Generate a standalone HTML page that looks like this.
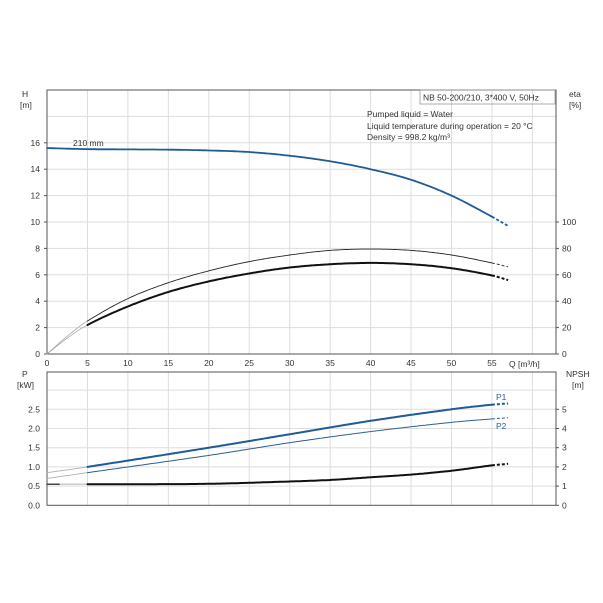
<!DOCTYPE html>
<html><head><meta charset="utf-8"><style>
html,body{margin:0;padding:0;background:#fff}
svg{display:block;font-family:"Liberation Sans",sans-serif}
</style></head><body>
<svg id="s" width="603" height="603" viewBox="0 0 603 603" xmlns="http://www.w3.org/2000/svg">
<rect width="603" height="603" fill="#fff"/>
<g id="g"></g>
<g font-size="8.5" fill="#333">
<text x="22" y="97">H</text><text x="20" y="108">[m]</text>
<text x="569" y="97">eta</text><text x="569" y="108">[%]</text>
<text x="22" y="377">P</text><text x="17" y="388">[kW]</text>
<text x="566" y="377">NPSH</text><text x="572" y="388">[m]</text>
<text x="509" y="367">Q [m³/h]</text>
<text x="73" y="146">210 mm</text>
<text x="367" y="117">Pumped liquid = Water</text>
<text x="367" y="129">Liquid temperature during operation = 20 °C</text>
<text x="367" y="140">Density = 998.2 kg/m³</text>
<text x="423" y="100.5">NB 50-200/210, 3*400 V, 50Hz</text>
<text x="496" y="400" fill="#2a5f95">P1</text>
<text x="496" y="429" fill="#2a5f95">P2</text>
</g>
<rect x="420" y="90" width="135" height="14" fill="none" stroke="#999" stroke-width="0.8"/>
</svg>
<script>
var NS="http://www.w3.org/2000/svg",g=document.getElementById('g');
function el(t,a){var e=document.createElementNS(NS,t);for(var k in a)e.setAttribute(k,a[k]);g.appendChild(e);return e;}
function tx(x,y,s,anchor){var e=el('text',{x:x,y:y,'font-size':8.5,fill:'#333','text-anchor':anchor||'middle'});e.textContent=s;}
var X0=47,XS=40.45/5;function X(q){return X0+q*XS;}
var T0=354,TS=26.4/2;function Y(h){return T0-h*TS;}
var B0=505.3,BS=19.2/0.5;function YB(p){return B0-p*BS;}
for(var q=5;q<=60;q+=5){el('line',{x1:X(q),y1:90,x2:X(q),y2:354,stroke:'#ddd','stroke-width':1});el('line',{x1:X(q),y1:372,x2:X(q),y2:505,stroke:'#ddd','stroke-width':1});}
for(var h=2;h<=18;h+=2)el('line',{x1:47,y1:Y(h),x2:556,y2:Y(h),stroke:'#ddd'});
for(var p=0.5;p<=3.01;p+=0.5)el('line',{x1:47,y1:YB(p),x2:556,y2:YB(p),stroke:'#ddd'});
el('rect',{x:47,y:90,width:509,height:264,fill:'none',stroke:'#555','stroke-width':1});
el('rect',{x:47,y:372,width:509,height:133.3,fill:'none',stroke:'#555','stroke-width':1});
for(var h=0;h<=16;h+=2){tx(40,Y(h)+3,h,'end');el('line',{x1:44,y1:Y(h),x2:47,y2:Y(h),stroke:'#555'});}
for(var e=0;e<=100;e+=20){tx(562,Y(e/10)+3,e,'start');el('line',{x1:556,y1:Y(e/10),x2:559,y2:Y(e/10),stroke:'#555'});}
for(var q=0;q<=55;q+=5){tx(X(q),366,q);}
for(var i=0;i<=5;i++){var p=i*0.5;tx(40,YB(p)+3,p.toFixed(1),'end');tx(562,YB(p)+3,i,'start');el('line',{x1:556,y1:YB(p),x2:559,y2:YB(p),stroke:'#555'});}
function interp(pts,q){var n=pts.length;for(var i=0;i<n-1;i++){if(q<=pts[i+1][0]+1e-9){
 var p0=pts[Math.max(i-1,0)],p1=pts[i],p2=pts[i+1],p3=pts[Math.min(i+2,n-1)];
 var h=p2[0]-p1[0],t=(q-p1[0])/h;
 var m1=(p2[1]-p0[1])/(p2[0]-p0[0]||1)*h, m2=(p3[1]-p1[1])/(p3[0]-p1[0]||1)*h;
 var t2=t*t,t3=t2*t;
 return (2*t3-3*t2+1)*p1[1]+(t3-2*t2+t)*m1+(-2*t3+3*t2)*p2[1]+(t3-t2)*m2;}}return pts[n-1][1];}
function curve(pts,yf,q1,q2,st){var d='';for(var q=q1;q<=q2+1e-6;q+=0.25){d+=(d?'L':'M')+X(q).toFixed(1)+','+yf(interp(pts,q)).toFixed(1);}var a={d:d,fill:'none','stroke-linecap':'round'};for(var k in st)a[k]=st[k];el('path',a);}
function series(pts,yf,col,w){curve(pts,yf,0,5,{stroke:'#aaa','stroke-width':0.8});curve(pts,yf,5,55,{stroke:col,'stroke-width':w});curve(pts,yf,55,57,{stroke:col,'stroke-width':w,'stroke-dasharray':'3,2','stroke-linecap':'butt'});}
var H=[[0,15.6],[5,15.52],[10,15.5],[15,15.48],[20,15.42],[25,15.3],[30,15.02],[35,14.6],[40,14.0],[45,13.2],[50,12.0],[55,10.4],[57,9.7]];
curve(H,Y,0,55,{stroke:'#1f5c96','stroke-width':1.8});curve(H,Y,55,57,{stroke:'#1f5c96','stroke-width':1.8,'stroke-dasharray':'3,2','stroke-linecap':'butt'});
var E1=[[0,0],[2.5,13.5],[5,25],[10,42],[15,54],[20,63],[25,70],[30,75],[35,78.5],[40,79.5],[45,78.5],[50,75],[55,69],[57,66]];
series(E1,function(v){return Y(v/10)},'#222',0.9);
var E2=[[0,0],[2.5,12],[5,22],[10,36],[15,47],[20,55],[25,61],[30,65.5],[35,68],[40,69],[45,68],[50,65],[55,59.5],[57,56]];
series(E2,function(v){return Y(v/10)},'#111',2);
var P1=[[0,0.85],[5,1.0],[20,1.5],[30,1.85],[40,2.2],[50,2.5],[55,2.62],[57,2.65]];
series(P1,YB,'#1f5c96',2);
var P2=[[0,0.7],[5,0.85],[20,1.3],[30,1.63],[40,1.92],[50,2.16],[55,2.25],[57,2.28]];
series(P2,YB,'#2a5f95',1);
var N=[[0,0.55],[10,0.55],[20,0.56],[30,0.62],[35,0.66],[40,0.73],[45,0.8],[50,0.9],[55,1.04],[57,1.08]];
curve(N,YB,0,5,{stroke:'#bbb','stroke-width':1.2});curve(N,YB,0,1.5,{stroke:'#444','stroke-width':1.5});curve(N,YB,5,55,{stroke:'#111','stroke-width':2});curve(N,YB,55,57,{stroke:'#111','stroke-width':2,'stroke-dasharray':'3,2','stroke-linecap':'butt'});
</script>
</body></html>
